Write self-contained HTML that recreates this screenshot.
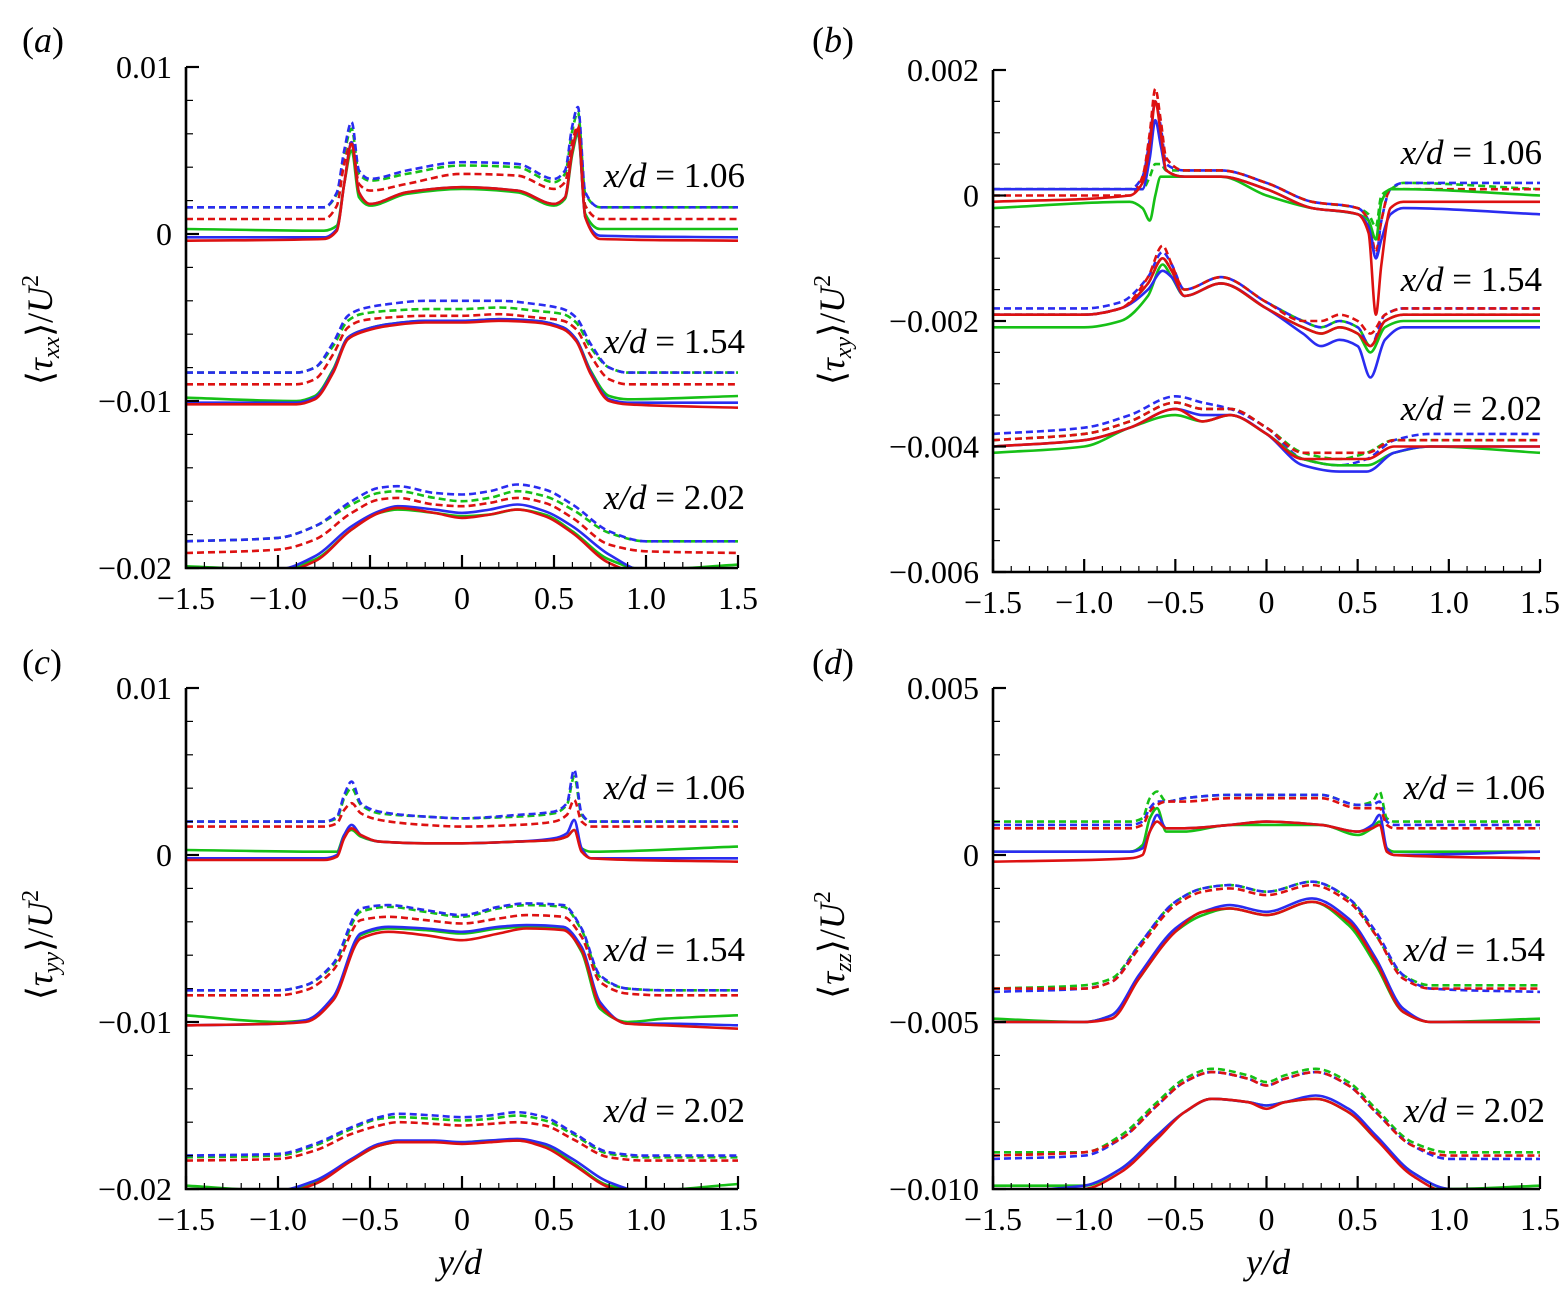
<!DOCTYPE html>
<html><head><meta charset="utf-8"><style>
html,body{margin:0;padding:0;background:#fff;}
svg{display:block;font-family:"Liberation Serif",serif;}
</style></head><body>
<svg id="fig" width="1564" height="1293" viewBox="0 0 1564 1293" xmlns="http://www.w3.org/2000/svg"></svg>
<script>
// ---------- data ----------
const A1_knots=[-1.5,-0.75,-0.68,-0.64,-0.6,-0.56,-0.5,-0.3,0,0.3,0.5,0.56,0.6,0.63,0.67,0.75,1.5];
const A1_blueSolid=[-0.0002,-0.0002,0.0003,0.003,0.0055,0.0025,0.0018,0.0025,0.0028,0.0026,0.0018,0.0022,0.005,0.0062,0.001,-0.0001,-0.0002];
const A1_greenSolid=[0.0003,0.0002,0.0005,0.003,0.005,0.0022,0.0017,0.0024,0.0027,0.0025,0.0017,0.0021,0.0048,0.006,0.0012,0.0003,0.0003];
const A1_redSolid=[-0.0004,-0.0003,0.0002,0.003,0.0054,0.0025,0.0018,0.0025,0.0028,0.0026,0.0018,0.0022,0.005,0.0063,0.001,-0.0003,-0.0004];
const A1_blueDash=[0.0016,0.0016,0.0025,0.005,0.0067,0.0038,0.0033,0.0038,0.0043,0.0042,0.0033,0.0038,0.0065,0.0076,0.0025,0.0016,0.0016];
const A1_greenDash=[0.0016,0.0016,0.0024,0.0048,0.0063,0.0036,0.0032,0.0036,0.0041,0.004,0.0031,0.0036,0.0062,0.0073,0.0024,0.0016,0.0016];
const A1_redDash=[0.0009,0.0009,0.0017,0.0042,0.0055,0.003,0.0026,0.003,0.0036,0.0035,0.0027,0.0031,0.0055,0.0065,0.0017,0.0009,0.0009];

const A2_knots=[-1.5,-0.9,-0.8,-0.7,-0.62,-0.55,-0.4,-0.2,0,0.2,0.4,0.55,0.62,0.7,0.8,0.9,1.5];
const A2_blueSolid=[-0.0101,-0.0101,-0.0098,-0.0082,-0.0062,-0.0058,-0.0054,-0.0052,-0.0052,-0.0051,-0.0052,-0.0056,-0.0063,-0.0083,-0.0099,-0.0101,-0.0101];
const A2_greenSolid=[-0.0098,-0.01,-0.0097,-0.0081,-0.0062,-0.0058,-0.0054,-0.0052,-0.0052,-0.0051,-0.0052,-0.0056,-0.0063,-0.0082,-0.0097,-0.0099,-0.0097];
const A2_redSolid=[-0.0102,-0.0102,-0.0099,-0.0083,-0.0063,-0.0059,-0.0055,-0.0053,-0.0053,-0.0052,-0.0053,-0.0057,-0.0064,-0.0084,-0.01,-0.0102,-0.0104];
const A2_blueDash=[-0.0083,-0.0083,-0.008,-0.0065,-0.0049,-0.0045,-0.0042,-0.004,-0.004,-0.004,-0.0042,-0.0045,-0.005,-0.0066,-0.008,-0.0083,-0.0083];
const A2_greenDash=[-0.0083,-0.0083,-0.008,-0.0067,-0.0052,-0.0048,-0.0046,-0.0045,-0.0045,-0.0044,-0.0046,-0.0048,-0.0053,-0.0068,-0.008,-0.0083,-0.0083];
const A2_redDash=[-0.009,-0.009,-0.0087,-0.0072,-0.0056,-0.0052,-0.005,-0.0049,-0.0049,-0.0048,-0.005,-0.0052,-0.0057,-0.0073,-0.0087,-0.009,-0.009];

const A3_knots=[-1.5,-1.0,-0.8,-0.6,-0.45,-0.35,-0.15,0,0.15,0.3,0.45,0.6,0.8,1.0,1.5];
const A3_blueSolid=[-0.0202,-0.0201,-0.0193,-0.0175,-0.0166,-0.0163,-0.0165,-0.0167,-0.0165,-0.0162,-0.0166,-0.0175,-0.0192,-0.0202,-0.0202];
const A3_greenSolid=[-0.0199,-0.0201,-0.0195,-0.0177,-0.0167,-0.0165,-0.0167,-0.0169,-0.0168,-0.0165,-0.0168,-0.0178,-0.0195,-0.0201,-0.0198];
const A3_redSolid=[-0.0203,-0.0203,-0.0196,-0.0177,-0.0167,-0.0164,-0.0167,-0.017,-0.0168,-0.0165,-0.0169,-0.0179,-0.0197,-0.0204,-0.0205];
const A3_blueDash=[-0.0184,-0.0182,-0.0175,-0.016,-0.0152,-0.0151,-0.0155,-0.0156,-0.0154,-0.015,-0.0153,-0.0162,-0.0178,-0.0184,-0.0184];
const A3_greenDash=[-0.0184,-0.0182,-0.0175,-0.0162,-0.0155,-0.0154,-0.0158,-0.016,-0.0158,-0.0154,-0.0157,-0.0165,-0.0179,-0.0184,-0.0184];
const A3_redDash=[-0.0191,-0.0189,-0.0183,-0.0167,-0.0159,-0.0158,-0.0162,-0.0163,-0.0161,-0.0158,-0.0161,-0.017,-0.0186,-0.019,-0.0191];

const B1_knots=[-1.5,-0.75,-0.68,-0.64,-0.61,-0.58,-0.55,-0.45,-0.25,0,0.25,0.5,0.56,0.6,0.63,0.68,0.75,1.5];
const B1_blueSolid=[0.0001,0.0001,0.0001,0.0006,0.0012,0.0008,0.0004,0.0003,0.0003,0.0001,-0.0002,-0.0003,-0.0005,-0.001,-0.0007,-0.0003,-0.0002,-0.0003];
const B1_greenSolid=[-0.0002,-0.0001,-0.0002,-0.0004,0.0,0.0003,0.0003,0.0003,0.0003,0.0,-0.0002,-0.0003,-0.0004,-0.0007,-0.0001,0.0001,0.0001,0.0];
const B1_redSolid=[-0.0001,0.0,0.0002,0.0008,0.0015,0.001,0.0004,0.0003,0.0003,0.0001,-0.0002,-0.0003,-0.0006,-0.0019,-0.0011,-0.0002,-0.0001,-0.0001];
const B1_blueDash=[0.0001,0.0001,0.0003,0.0009,0.0015,0.0011,0.0005,0.0004,0.0004,0.0002,-0.0001,-0.0002,-0.0004,-0.001,-0.0004,0.0001,0.0002,0.0002];
const B1_greenDash=[0.0001,0.0001,0.0001,0.0003,0.0005,0.0005,0.0004,0.0004,0.0004,0.0002,-0.0001,-0.0002,-0.0003,-0.0005,0.0,0.0001,0.0002,0.0001];
const B1_redDash=[0.0,0.0,0.0003,0.001,0.0017,0.0012,0.0006,0.0004,0.0004,0.0002,-0.0001,-0.0002,-0.0004,-0.0009,-0.0004,0.0001,0.0001,0.0001];

const B2_knots=[-1.5,-1.0,-0.8,-0.65,-0.57,-0.52,-0.45,-0.25,0,0.2,0.3,0.4,0.5,0.57,0.65,0.75,1.5];
const B2_blueSolid=[-0.0019,-0.0019,-0.0018,-0.0015,-0.0012,-0.0013,-0.0016,-0.0014,-0.0018,-0.0022,-0.0024,-0.0023,-0.0024,-0.0029,-0.0023,-0.0021,-0.0021];
const B2_greenSolid=[-0.0021,-0.0021,-0.002,-0.0016,-0.0011,-0.0013,-0.0016,-0.0014,-0.0018,-0.0021,-0.0022,-0.0021,-0.0022,-0.0025,-0.0021,-0.002,-0.002];
const B2_redSolid=[-0.0019,-0.0019,-0.0018,-0.0014,-0.001,-0.0012,-0.0016,-0.0014,-0.0018,-0.0021,-0.0022,-0.0021,-0.0022,-0.0024,-0.002,-0.0019,-0.0019];
const B2_blueDash=[-0.0018,-0.0018,-0.0017,-0.0013,-0.0009,-0.0011,-0.0015,-0.0013,-0.0017,-0.002,-0.0021,-0.002,-0.0021,-0.0024,-0.0019,-0.0018,-0.0018];
const B2_greenDash=[-0.0019,-0.0019,-0.0018,-0.0014,-0.001,-0.0012,-0.0015,-0.0013,-0.0017,-0.002,-0.0021,-0.002,-0.0021,-0.0024,-0.002,-0.0019,-0.0019];
const B2_redDash=[-0.0019,-0.0019,-0.0018,-0.0013,-0.0008,-0.0011,-0.0015,-0.0013,-0.0017,-0.002,-0.002,-0.0019,-0.002,-0.0022,-0.0019,-0.0018,-0.0018];

const B3_knots=[-1.5,-1.0,-0.75,-0.5,-0.35,-0.2,0,0.2,0.4,0.55,0.7,0.9,1.5];
const B3_blueSolid=[-0.004,-0.0039,-0.0037,-0.0034,-0.0035,-0.0035,-0.0038,-0.0043,-0.0044,-0.0044,-0.0041,-0.004,-0.004];
const B3_greenSolid=[-0.0041,-0.004,-0.0037,-0.0035,-0.0036,-0.0035,-0.0038,-0.0042,-0.0043,-0.0043,-0.0041,-0.004,-0.0041];
const B3_redSolid=[-0.004,-0.0039,-0.0037,-0.0034,-0.0036,-0.0035,-0.0038,-0.0042,-0.0042,-0.0042,-0.004,-0.004,-0.004];
const B3_blueDash=[-0.0038,-0.0037,-0.0035,-0.0032,-0.0033,-0.0034,-0.0037,-0.0042,-0.0043,-0.0042,-0.0039,-0.0038,-0.0038];
const B3_greenDash=[-0.0039,-0.0038,-0.0036,-0.0033,-0.0034,-0.0034,-0.0037,-0.0041,-0.0042,-0.0041,-0.0039,-0.0039,-0.0039];
const B3_redDash=[-0.0039,-0.0038,-0.0036,-0.0033,-0.0034,-0.0034,-0.0037,-0.0041,-0.0041,-0.0041,-0.0039,-0.0039,-0.0039];

const C1_knots=[-1.5,-0.75,-0.68,-0.64,-0.6,-0.55,-0.45,-0.2,0,0.3,0.5,0.57,0.61,0.65,0.7,1.5];
const C1_blueSolid=[-0.0002,-0.0002,0.0,0.0012,0.0018,0.0012,0.0008,0.0007,0.0007,0.0008,0.001,0.0013,0.0021,0.0004,-0.0002,-0.0002];
const C1_greenSolid=[0.0003,0.0002,0.0002,0.0012,0.0015,0.0011,0.0008,0.0007,0.0007,0.0008,0.0009,0.0011,0.0015,0.0004,0.0002,0.0005];
const C1_redSolid=[-0.0003,-0.0003,-0.0001,0.001,0.0016,0.0012,0.0008,0.0007,0.0007,0.0008,0.0009,0.0011,0.0015,0.0002,-0.0002,-0.0004];
const C1_blueDash=[0.002,0.002,0.0023,0.0036,0.0044,0.0031,0.0026,0.0023,0.0022,0.0024,0.0026,0.0031,0.0051,0.0025,0.002,0.002];
const C1_greenDash=[0.002,0.002,0.0022,0.0034,0.004,0.003,0.0025,0.0023,0.0022,0.0023,0.0025,0.003,0.0047,0.0024,0.002,0.002];
const C1_redDash=[0.0017,0.0017,0.0019,0.0027,0.0031,0.0025,0.0021,0.0018,0.0017,0.0018,0.002,0.0024,0.0033,0.002,0.0017,0.0017];

const C2_knots=[-1.5,-1.0,-0.85,-0.7,-0.55,-0.4,-0.2,0,0.2,0.35,0.55,0.65,0.75,0.9,1.1,1.5];
const C2_blueSolid=[-0.0102,-0.0101,-0.0099,-0.0085,-0.0047,-0.0043,-0.0044,-0.0046,-0.0043,-0.0042,-0.0043,-0.0055,-0.0088,-0.0101,-0.0101,-0.0102];
const C2_greenSolid=[-0.0096,-0.01,-0.0099,-0.0086,-0.0048,-0.0044,-0.0045,-0.0047,-0.0044,-0.0043,-0.0044,-0.0058,-0.0092,-0.01,-0.0098,-0.0096];
const C2_redSolid=[-0.0102,-0.0101,-0.01,-0.0087,-0.005,-0.0046,-0.0048,-0.0051,-0.0047,-0.0044,-0.0045,-0.0057,-0.009,-0.0101,-0.0102,-0.0104];
const C2_blueDash=[-0.0081,-0.0081,-0.0078,-0.0065,-0.0032,-0.003,-0.0033,-0.0036,-0.0031,-0.0029,-0.003,-0.0044,-0.0072,-0.008,-0.0081,-0.0081];
const C2_greenDash=[-0.0081,-0.0081,-0.0078,-0.0066,-0.0034,-0.0031,-0.0034,-0.0037,-0.0032,-0.003,-0.0031,-0.0045,-0.0073,-0.008,-0.0081,-0.0081];
const C2_redDash=[-0.0084,-0.0084,-0.0081,-0.0069,-0.0039,-0.0037,-0.0039,-0.0041,-0.0038,-0.0036,-0.0037,-0.0049,-0.0076,-0.0083,-0.0084,-0.0084];

const C3_knots=[-1.5,-1.0,-0.8,-0.6,-0.45,-0.35,-0.15,0,0.15,0.3,0.45,0.6,0.8,1.0,1.5];
const C3_blueSolid=[-0.0202,-0.0201,-0.0195,-0.0182,-0.0173,-0.0171,-0.0171,-0.0172,-0.0171,-0.017,-0.0173,-0.0182,-0.0196,-0.0202,-0.0203];
const C3_greenSolid=[-0.0198,-0.0201,-0.0196,-0.0183,-0.0174,-0.0172,-0.0172,-0.0172,-0.0171,-0.0171,-0.0174,-0.0184,-0.0198,-0.0201,-0.0197];
const C3_redSolid=[-0.0203,-0.0203,-0.0197,-0.0183,-0.0174,-0.0172,-0.0172,-0.0173,-0.0172,-0.0171,-0.0175,-0.0185,-0.0199,-0.0204,-0.0205];
const C3_blueDash=[-0.018,-0.0179,-0.0173,-0.0163,-0.0157,-0.0155,-0.0156,-0.0157,-0.0156,-0.0154,-0.0157,-0.0166,-0.0178,-0.018,-0.018];
const C3_greenDash=[-0.0181,-0.018,-0.0174,-0.0164,-0.0158,-0.0157,-0.0158,-0.0159,-0.0158,-0.0156,-0.0159,-0.0167,-0.0179,-0.0181,-0.0181];
const C3_redDash=[-0.0183,-0.0182,-0.0177,-0.0167,-0.0162,-0.016,-0.0161,-0.0162,-0.0161,-0.016,-0.0162,-0.017,-0.0181,-0.0183,-0.0183];

const D1_knots=[-1.5,-0.75,-0.68,-0.64,-0.6,-0.55,-0.45,-0.2,0,0.3,0.5,0.58,0.62,0.66,0.7,1.5];
const D1_blueSolid=[0.0001,0.0001,0.0002,0.0007,0.0012,0.0008,0.0008,0.0009,0.001,0.0009,0.0007,0.0009,0.0012,0.0002,0.0,0.0001];
const D1_greenSolid=[0.0001,0.0001,0.0003,0.0011,0.0014,0.0007,0.0007,0.0009,0.0009,0.0009,0.0006,0.0008,0.001,0.0002,0.0001,0.0001];
const D1_redSolid=[-0.0002,-0.0001,0.0,0.0007,0.001,0.0008,0.0008,0.0009,0.001,0.0009,0.0007,0.0008,0.0009,0.0001,0.0,-0.0001];
const D1_blueDash=[0.0009,0.0009,0.001,0.0014,0.0016,0.0016,0.0017,0.0018,0.0018,0.0018,0.0015,0.0015,0.0016,0.001,0.0009,0.0009];
const D1_greenDash=[0.001,0.001,0.0011,0.0017,0.0019,0.0016,0.0017,0.0018,0.0018,0.0018,0.0015,0.0016,0.0019,0.0011,0.001,0.001];
const D1_redDash=[0.0008,0.0008,0.0009,0.0013,0.0015,0.0016,0.0016,0.0017,0.0017,0.0017,0.0014,0.0014,0.0014,0.0009,0.0008,0.0008];

const D2_knots=[-1.5,-1.0,-0.85,-0.7,-0.5,-0.35,-0.2,0,0.25,0.45,0.6,0.75,0.9,1.5];
const D2_blueSolid=[-0.005,-0.005,-0.0048,-0.0036,-0.0022,-0.0017,-0.0015,-0.0017,-0.0013,-0.0019,-0.0031,-0.0046,-0.005,-0.005];
const D2_greenSolid=[-0.0049,-0.005,-0.0048,-0.0037,-0.0023,-0.0018,-0.0016,-0.0018,-0.0014,-0.0021,-0.0033,-0.0047,-0.005,-0.0049];
const D2_redSolid=[-0.005,-0.005,-0.0049,-0.0037,-0.0023,-0.0017,-0.0016,-0.0018,-0.0014,-0.002,-0.0032,-0.0047,-0.005,-0.005];
const D2_blueDash=[-0.0041,-0.004,-0.0038,-0.0027,-0.0014,-0.001,-0.0009,-0.0011,-0.0008,-0.0013,-0.0023,-0.0036,-0.004,-0.0041];
const D2_greenDash=[-0.004,-0.0039,-0.0037,-0.0027,-0.0014,-0.001,-0.0009,-0.0011,-0.0008,-0.0013,-0.0024,-0.0036,-0.0039,-0.0039];
const D2_redDash=[-0.004,-0.004,-0.0038,-0.0028,-0.0015,-0.0011,-0.001,-0.0012,-0.0009,-0.0014,-0.0024,-0.0037,-0.004,-0.004];

const D3_knots=[-1.5,-1.0,-0.8,-0.6,-0.45,-0.3,-0.1,0,0.1,0.27,0.45,0.6,0.8,1.0,1.5];
const D3_blueSolid=[-0.0101,-0.0099,-0.0094,-0.0084,-0.0077,-0.0073,-0.0074,-0.0075,-0.0074,-0.0072,-0.0076,-0.0084,-0.0095,-0.01,-0.0101];
const D3_greenSolid=[-0.0099,-0.0099,-0.0094,-0.0084,-0.0077,-0.0073,-0.0074,-0.0075,-0.0074,-0.0073,-0.0077,-0.0085,-0.0095,-0.01,-0.0099];
const D3_redSolid=[-0.0101,-0.01,-0.0095,-0.0085,-0.0077,-0.0073,-0.0074,-0.0076,-0.0074,-0.0073,-0.0077,-0.0085,-0.0096,-0.0101,-0.0101];
const D3_blueDash=[-0.0091,-0.009,-0.0085,-0.0075,-0.0068,-0.0065,-0.0067,-0.0069,-0.0067,-0.0065,-0.0069,-0.0077,-0.0087,-0.0091,-0.0091];
const D3_greenDash=[-0.0089,-0.0089,-0.0084,-0.0074,-0.0067,-0.0064,-0.0066,-0.0068,-0.0066,-0.0064,-0.0068,-0.0076,-0.0086,-0.0089,-0.0089];
const D3_redDash=[-0.009,-0.0089,-0.0085,-0.0075,-0.0068,-0.0065,-0.0067,-0.0069,-0.0067,-0.0065,-0.0069,-0.0077,-0.0087,-0.009,-0.009];

const xTickValues=[-1.5,-1.0,-0.5,0,0.5,1.0,1.5];
const xTickLabels=["\u22121.5","\u22121.0","\u22120.5","0","0.5","1.0","1.5"];
const A_yTicks=[0.01,0,-0.01,-0.02]; const A_yLabels=["0.01","0","\u22120.01","\u22120.02"];
const B_yTicks=[0.002,0,-0.002,-0.004,-0.006]; const B_yLabels=["0.002","0","\u22120.002","\u22120.004","\u22120.006"];
const C_yTicks=[0.01,0,-0.01,-0.02]; const C_yLabels=["0.01","0","\u22120.01","\u22120.02"];
const D_yTicks=[0.005,0,-0.005,-0.01]; const D_yLabels=["0.005","0","\u22120.005","\u22120.010"];
const groupLabels=["1.06","1.54","2.02"];

// ---------- drawing ----------
const NS="http://www.w3.org/2000/svg";
const svg=document.getElementById('fig');
function mk(tag,attrs,parent){const e=document.createElementNS(NS,tag);for(const k in attrs)e.setAttribute(k,attrs[k]);(parent||svg).appendChild(e);return e;}
// monotone cubic (Fritsch-Carlson) path
function pathFrom(pts){
  const n=pts.length, d=[], m=new Array(n);
  for(let i=0;i<n-1;i++)d.push((pts[i+1][1]-pts[i][1])/(pts[i+1][0]-pts[i][0]));
  m[0]=d[0]; m[n-1]=d[n-2];
  for(let i=1;i<n-1;i++){ if(d[i-1]*d[i]<=0)m[i]=0; else { const h0=pts[i][0]-pts[i-1][0],h1=pts[i+1][0]-pts[i][0]; const w1=2*h1+h0,w2=h1+2*h0; m[i]=(w1+w2)/(w1/d[i-1]+w2/d[i]); } }
  let s="M"+pts[0][0].toFixed(1)+","+pts[0][1].toFixed(1);
  for(let i=0;i<n-1;i++){
    const h=(pts[i+1][0]-pts[i][0])/3;
    s+=" C"+(pts[i][0]+h).toFixed(1)+","+(pts[i][1]+m[i]*h).toFixed(1)+" "+(pts[i+1][0]-h).toFixed(1)+","+(pts[i+1][1]-m[i+1]*h).toFixed(1)+" "+pts[i+1][0].toFixed(1)+","+pts[i+1][1].toFixed(1);
  }
  return s;
}
const COL={blue:"#2a2cf0",green:"#16c016",red:"#dd1111"};
const panels=[
 {id:"a",x0:186,x1:738,vT:0.01,pT:67,vB:-0.02,pB:568,ticks:A_yTicks,labels:A_yLabels,minor:0.002,sub:"xx",
  groups:[[A1_knots,A1_blueSolid,A1_greenSolid,A1_redSolid,A1_blueDash,A1_greenDash,A1_redDash],[A2_knots,A2_blueSolid,A2_greenSolid,A2_redSolid,A2_blueDash,A2_greenDash,A2_redDash],[A3_knots,A3_blueSolid,A3_greenSolid,A3_redSolid,A3_blueDash,A3_greenDash,A3_redDash]],
  lab:[176,342,498],lx:745,letter:[22,40],title:[52,330]},
 {id:"b",x0:993,x1:1540,vT:0.002,pT:70,vB:-0.006,pB:572,ticks:B_yTicks,labels:B_yLabels,minor:0.0005,sub:"xy",
  groups:[[B1_knots,B1_blueSolid,B1_greenSolid,B1_redSolid,B1_blueDash,B1_greenDash,B1_redDash],[B2_knots,B2_blueSolid,B2_greenSolid,B2_redSolid,B2_blueDash,B2_greenDash,B2_redDash],[B3_knots,B3_blueSolid,B3_greenSolid,B3_redSolid,B3_blueDash,B3_greenDash,B3_redDash]],
  lab:[153,280,409],lx:1542,letter:[812,40],title:[844,330]},
 {id:"c",x0:186,x1:738,vT:0.01,pT:688,vB:-0.02,pB:1189,ticks:C_yTicks,labels:C_yLabels,minor:0.002,sub:"yy",
  groups:[[C1_knots,C1_blueSolid,C1_greenSolid,C1_redSolid,C1_blueDash,C1_greenDash,C1_redDash],[C2_knots,C2_blueSolid,C2_greenSolid,C2_redSolid,C2_blueDash,C2_greenDash,C2_redDash],[C3_knots,C3_blueSolid,C3_greenSolid,C3_redSolid,C3_blueDash,C3_greenDash,C3_redDash]],
  lab:[788,950,1111],lx:745,letter:[22,662],title:[52,945]},
 {id:"d",x0:993,x1:1540,vT:0.005,pT:688,vB:-0.01,pB:1189,ticks:D_yTicks,labels:D_yLabels,minor:0.001,sub:"zz",
  groups:[[D1_knots,D1_blueSolid,D1_greenSolid,D1_redSolid,D1_blueDash,D1_greenDash,D1_redDash],[D2_knots,D2_blueSolid,D2_greenSolid,D2_redSolid,D2_blueDash,D2_greenDash,D2_redDash],[D3_knots,D3_blueSolid,D3_greenSolid,D3_redSolid,D3_blueDash,D3_greenDash,D3_redDash]],
  lab:[788,950,1111],lx:1545,letter:[812,662],title:[844,945]}
];
const seriesMeta=[["blue",false],["green",false],["red",false],["blue",true],["green",true],["red",true]];
const drawOrder=[4,3,5,1,0,2];
panels.forEach(P=>{
  const g=mk('g',{});
  
  
  const X=v=>P.x0+(v+1.5)/3*(P.x1-P.x0);
  const Y=v=>P.pT+(P.vT-v)/(P.vT-P.vB)*(P.pB-P.pT);
  const clipId='clip-'+P.id;
  const cp=mk('clipPath',{id:clipId},g);
  mk('rect',{x:P.x0,y:P.pT-40,width:P.x1-P.x0+2,height:P.pB-P.pT+40},cp);
  const cg=mk('g',{'clip-path':'url(#'+clipId+')'},g);
  P.groups.forEach((grp,gi)=>{
    const knots=grp[0];
    drawOrder.forEach(si=>{
      const vals=grp[si+1];
      const [c,dash]=seriesMeta[si];
      const pts=knots.map((k,i)=>[X(k),Y(vals[i])]);
      const p=mk('path',{d:pathFrom(pts),fill:'none',stroke:COL[c],'stroke-width':2.6,'stroke-linejoin':'round'},cg);
      if(dash)p.setAttribute('stroke-dasharray','7,4');
      
      
    });
    const t=mk('text',{x:P.lx,y:P.lab[gi]+11,'text-anchor':'end','font-size':35,'font-style':'italic'},g);
    
    
    t.innerHTML='x/d<tspan font-style="normal"> = '+groupLabels[gi]+'</tspan>';
  });
  const ax=mk('path',{d:`M${P.x0},${P.pT} V${P.pB} H${P.x1}`,fill:'none',stroke:'#000','stroke-width':2.6},g);
  
  
  P.ticks.forEach((v,i)=>{
    mk('line',{x1:P.x0,x2:P.x0+13,y1:Y(v),y2:Y(v),stroke:'#000','stroke-width':2.2},g);
    const t=mk('text',{x:P.x0-14,y:Y(v)+11,'text-anchor':'end','font-size':32},g);
    
    
    t.textContent=P.labels[i];
  });
  const nMin=Math.round((P.vT-P.vB)/P.minor);
  for(let k=0;k<=nMin;k++){const v=P.vT-k*P.minor;mk('line',{x1:P.x0,x2:P.x0+7,y1:Y(v),y2:Y(v),stroke:'#000','stroke-width':1.2},g);}
  for(let k=0;k<=30;k++){const v=-1.5+k*0.1;mk('line',{x1:X(v),x2:X(v),y1:P.pB,y2:P.pB-6,stroke:'#000','stroke-width':1.2},g);}
  xTickValues.forEach((v,i)=>{
    mk('line',{x1:X(v),x2:X(v),y1:P.pB,y2:P.pB-13,stroke:'#000','stroke-width':2.2},g);
    const t=mk('text',{x:X(v),y:P.pB+41,'text-anchor':'middle','font-size':32},g);
    
    
    t.textContent=xTickLabels[i];
  });
  const L=mk('text',{x:P.letter[0],y:P.letter[1]+12,'font-size':36},g);
  
  
  L.innerHTML='(<tspan font-style="italic">'+P.id+'</tspan>)';
  const T=mk('text',{x:0,y:0,'font-size':36,'text-anchor':'middle',transform:`translate(${P.title[0]},${P.title[1]}) rotate(-90)`},g);
  
  
  T.innerHTML='\u27E8<tspan font-style="italic">\u03C4</tspan><tspan font-style="italic" font-size="24" dy="7">'+P.sub+'</tspan><tspan dy="-7">\u27E9/</tspan><tspan font-style="italic">U</tspan><tspan font-size="24" dy="-14">2</tspan>';
});
[[460,1274],[1268,1274]].forEach((p,i)=>{
  const t=mk('text',{x:p[0],y:p[1],'text-anchor':'middle','font-size':36,'font-style':'italic'});
  
  
  t.textContent='y/d';
});
</script>
</body></html>
